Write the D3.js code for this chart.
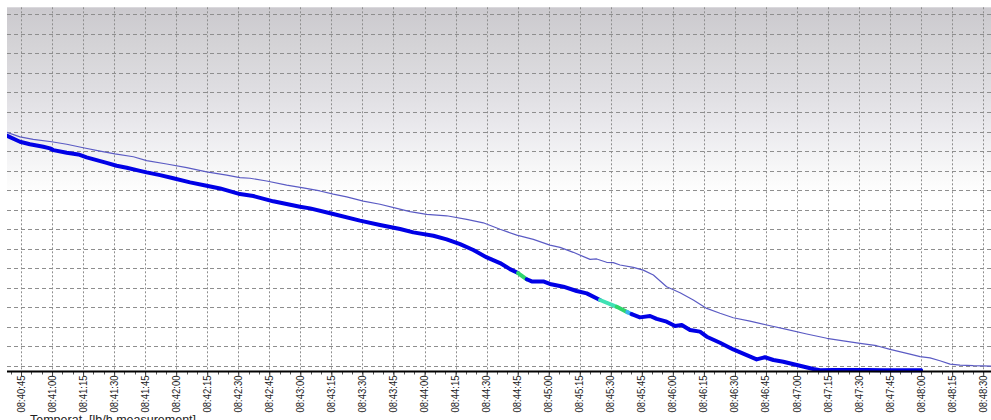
<!DOCTYPE html>
<html>
<head>
<meta charset="utf-8">
<script src="https://cdn.jsdelivr.net/npm/d3@7"></script>
<style>
  html, body { margin: 0; padding: 0; background: #ffffff; overflow: hidden; }
  svg { display: block; }
</style>
</head>
<body>
<svg id="chart" width="991" height="420"></svg>
<script>
// ---- data (time in seconds after 08:40:00) ----
const thickTime = [38.1, 44.5, 49.3, 55.8, 59.0, 60.6, 67.1, 72.7, 76.7, 86.4, 91.2, 96.1, 102.5, 105.7,
  112.2, 118.6, 126.7, 134.7, 141.2, 150.8, 157.3, 166.9, 179.8, 184.7, 195.9, 208.8, 218.5, 228.2,
  234.6, 244.3, 250.7, 257.2, 263.6, 270.1, 276.5, 281.3, 285.2, 289.4, 291.8, 297.4, 300.6, 307.1,
  313.5, 318.4, 324.8, 332.9, 338.0, 340.1, 344.1, 349.0, 352.2, 357.0, 361.1, 364.3, 368.3, 373.1,
  376.4, 382.8, 389.2, 395.7, 400.5, 404.5, 408.6, 413.4, 419.9, 427.9, 431.1, 437.5, 453.7, 461.7, 480.0];
const thickValue = [11.79, 11.48, 11.35, 11.22, 11.14, 11.05, 10.92, 10.83, 10.68, 10.40, 10.25, 10.15, 9.99, 9.91,
  9.77, 9.61, 9.40, 9.23, 9.09, 8.80, 8.70, 8.43, 8.15, 8.07, 7.78, 7.44, 7.22, 7.01,
  6.84, 6.67, 6.48, 6.24, 5.94, 5.56, 5.27, 4.96, 4.76, 4.44, 4.33, 4.33, 4.20, 4.06,
  3.84, 3.72, 3.38, 3.03, 2.76, 2.66, 2.49, 2.56, 2.41, 2.27, 2.05, 2.10, 1.84, 1.76,
  1.50, 1.19, 0.85, 0.56, 0.34, 0.45, 0.31, 0.22, 0.05, -0.15, -0.22, -0.20, -0.20, -0.22, -0.22];
// state of the segment starting at each point: 0 normal, 1 green, 2 aqua, 3 light blue
const thickState = [0,0,0,0,0,0,0,0,0,0,0,0,0,0,
  0,0,0,0,0,0,0,0,0,0,0,0,0,0,
  0,0,0,0,0,0,0,0,1,0,0,0,0,0,
  0,0,2,1,3,0,0,0,0,0,0,0,0,0,
  0,0,0,0,0,0,0,0,0,0,0,0,0,0,0];

const thinTime = [38.1, 44.5, 50.9, 59.8, 67.1, 75.1, 83.2, 90.4, 99.3, 105.7, 115.4, 125.1, 134.7, 144.4,
  150.8, 155.7, 163.7, 173.4, 181.4, 189.5, 195.9, 202.4, 210.4, 218.5, 226.6, 233.0, 241.1, 250.7,
  260.4, 268.4, 276.5, 284.6, 292.6, 300.6, 305.5, 311.9, 320.0, 323.2, 328.0, 331.2, 334.5, 340.9,
  345.7, 350.6, 357.0, 363.5, 369.9, 376.4, 382.8, 389.2, 397.3, 405.4, 415.0, 424.7, 434.4, 442.4,
  450.5, 458.5, 465.0, 474.6, 479.5, 484.3, 489.1, 494.0, 498.8, 505.2, 513.8];
const thinValue = [11.96, 11.73, 11.60, 11.48, 11.35, 11.17, 11.00, 10.86, 10.71, 10.51, 10.34, 10.15, 9.94, 9.77,
  9.64, 9.61, 9.47, 9.26, 9.12, 8.96, 8.80, 8.66, 8.44, 8.28, 8.07, 7.90, 7.76, 7.69,
  7.51, 7.33, 7.00, 6.70, 6.48, 6.19, 6.07, 5.82, 5.46, 5.48, 5.31, 5.29, 5.17, 5.05,
  4.91, 4.66, 4.06, 3.75, 3.38, 2.95, 2.70, 2.47, 2.30, 2.10, 1.88, 1.64, 1.42, 1.29,
  1.16, 1.04, 0.85, 0.61, 0.48, 0.42, 0.27, 0.10, 0.05, 0.02, 0.00];

const tickStart = 45;   // 08:40:45
const tickEnd = 510;    // 08:48:30
const tickStep = 15;
const gridValues = d3.range(0, 19, 1);
const footerText = "Temperat. [lb/h measurement]";

// ---- layout ----
const svg = d3.select("#chart");
const padL = 7, padR = 991, padT = 7.3, padB = 371.5;
const base = new Date(2000, 0, 1, 8, 40, 0).getTime();
const toDate = s => new Date(base + s * 1000);

const x = d3.scaleTime()
  .domain([toDate(38.23), toDate(513.76)])
  .range([padL, padR]);
const y = d3.scaleLinear()
  .domain([-0.28, 18.36])
  .range([padB, padT]);

// background gradient
const defs = svg.append("defs");
const grad = defs.append("linearGradient").attr("id", "bg")
  .attr("x1", 0).attr("y1", 0).attr("x2", 0).attr("y2", 1);
[[0, "#cbc9ce"], [0.1, "#d4d3d6"], [0.22, "#dedde1"], [0.32, "#e9e8ec"], [0.4, "#f2f2f4"], [0.47, "#fafafa"], [0.52, "#ffffff"], [1, "#ffffff"]]
  .forEach(([o, c]) => grad.append("stop").attr("offset", o).attr("stop-color", c));
defs.append("clipPath").attr("id", "plotclip")
  .append("rect").attr("x", padL).attr("y", padT).attr("width", padR - padL).attr("height", padB - padT + 2);

svg.append("rect").attr("x", padL).attr("y", padT)
  .attr("width", padR - padL).attr("height", padB - padT)
  .attr("fill", "url(#bg)");

// grid
const tickDates = d3.range(tickStart, tickEnd + 1, tickStep).map(toDate);
const grid = svg.append("g");
grid.selectAll("line.h").data(gridValues).join("line")
  .attr("x1", padL).attr("x2", padR)
  .attr("y1", d => Math.round(y(d)) + 0.5).attr("y2", d => Math.round(y(d)) + 0.5)
  .attr("stroke", "#8e8e8e").attr("stroke-width", 1).attr("stroke-dasharray", "4,3");
grid.selectAll("line.v").data(tickDates).join("line")
  .attr("x1", d => Math.round(x(d)) + 0.5).attr("x2", d => Math.round(x(d)) + 0.5)
  .attr("y1", padT).attr("y2", padB)
  .attr("stroke", "#8e8e8e").attr("stroke-width", 1).attr("stroke-dasharray", "2,2");

const plot = svg.append("g").attr("clip-path", "url(#plotclip)");

// thin series
const lineGen = d3.line().x(d => x(toDate(d.t))).y(d => y(d.v));
const thin = thinTime.map((t, i) => ({ t, v: thinValue[i] }));
plot.append("path").datum(thin)
  .attr("d", lineGen)
  .attr("fill", "none").attr("stroke", "#5b5bc4").attr("stroke-width", 1.2)
  .attr("stroke-linejoin", "round");

// thick series split into coloured runs
const stateColor = d3.scaleOrdinal().domain([0, 1, 2, 3])
  .range(["#0000e6", "#2fd56c", "#3fe2b4", "#3cb4f0"]);
const thick = thickTime.map((t, i) => ({ t, v: thickValue[i], s: thickState[i] }));
const runs = [];
let cur = null;
for (let i = 0; i < thick.length - 1; i++) {
  const s = thick[i].s;
  if (!cur || cur.s !== s) {
    cur = { s, pts: [thick[i]] };
    runs.push(cur);
  }
  cur.pts.push(thick[i + 1]);
}
plot.selectAll("path.thick").data(runs).join("path")
  .attr("class", "thick")
  .attr("d", d => lineGen(d.pts))
  .attr("fill", "none")
  .attr("stroke", d => stateColor(d.s))
  .attr("stroke-width", 4)
  .attr("stroke-linejoin", "round")
  .attr("stroke-linecap", "round");

// x axis
const minorDates = d3.range(40, tickEnd + 5, 5).map(toDate);
svg.append("g").selectAll("line").data(minorDates).join("line")
  .attr("x1", d => Math.round(x(d)) + 0.5).attr("x2", d => Math.round(x(d)) + 0.5)
  .attr("y1", padB).attr("y2", padB + 3)
  .attr("stroke", "#555").attr("stroke-width", 1);

const xAxis = d3.axisBottom(x)
  .tickValues(tickDates)
  .tickFormat(d3.timeFormat("%H:%M:%S"))
  .tickSize(5)
  .tickSizeOuter(0);
const ax = svg.append("g").attr("transform", `translate(0,${padB})`).call(xAxis);
ax.select(".domain").remove();
ax.selectAll(".tick line").attr("stroke", "#444");
ax.selectAll(".tick text")
  .attr("font-family", "'Liberation Sans', Arial, sans-serif")
  .attr("font-size", 11.5)
  .attr("fill", "#222")
  .attr("text-anchor", "end")
  .attr("transform", "rotate(-90)")
  .attr("x", -4)
  .attr("y", -1)
  .attr("dy", "0.35em")
  .attr("textLength", 37)
  .attr("lengthAdjust", "spacingAndGlyphs");

svg.append("line")
  .attr("x1", padL).attr("x2", padR)
  .attr("y1", padB).attr("y2", padB)
  .attr("stroke", "#000").attr("stroke-width", 2);

// footer (partly below the window edge, as in the source picture)
svg.append("text")
  .attr("x", 30).attr("y", 424)
  .attr("font-family", "'Liberation Sans', Arial, sans-serif")
  .attr("font-size", 12.5)
  .attr("fill", "#222")
  .text(footerText);
</script>
</body>
</html>
